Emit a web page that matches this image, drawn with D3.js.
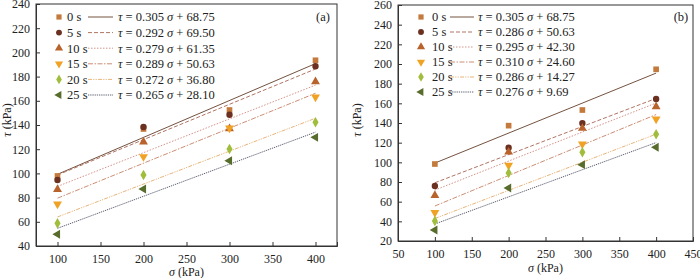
<!DOCTYPE html>
<html><head><meta charset="utf-8">
<script src="https://cdn.jsdelivr.net/npm/d3@7"></script>
<style>
body{margin:0;background:#fff;}
svg{display:block;}
svg text{font-family:"Liberation Serif","Times New Roman",serif !important;}
</style></head>
<body>
<svg id="c" width="700" height="278"></svg>
<script>
// ---- data ----
const sigma = [100, 200, 300, 400];
const seriesLabels = ["0 s", "5 s", "10 s", "15 s", "20 s", "25 s"];
const xTicksA = [100, 150, 200, 250, 300, 350, 400];
const yTicksA = [40, 60, 80, 100, 120, 140, 160, 180, 200, 220, 240];
const xTicksB = [50, 100, 150, 200, 250, 300, 350, 400, 450];
const yTicksB = [20, 40, 60, 80, 100, 120, 140, 160, 180, 200, 220, 240, 260];

const tauA0 = [97.9, 136.7, 152.4, 193.5];
const tauA5 = [94.5, 138.3, 148.5, 188.5];
const tauA10 = [86.8, 126.0, 137.0, 175.8];
const tauA15 = [74.7, 113.8, 137.5, 163.1];
const tauA20 = [58.7, 98.7, 120.2, 142.2];
const tauA25 = [49.7, 87.1, 110.5, 129.8];
const slopeA = [0.305, 0.292, 0.279, 0.289, 0.272, 0.265];
const interceptA = [68.75, 69.50, 61.35, 50.63, 36.80, 28.10];
const eqA = ["0.305", "0.292", "0.279", "0.289", "0.272", "0.265"];
const eqIntA = ["68.75", "69.50", "61.35", "50.63", "36.80", "28.10"];

const tauB0 = [98.3, 137.3, 153.2, 194.6];
const tauB5 = [76.0, 114.9, 139.7, 164.4];
const tauB10 = [66.4, 110.5, 134.6, 156.6];
const tauB15 = [48.8, 97.0, 118.6, 144.0];
const tauB20 = [40.3, 89.1, 110.2, 128.5];
const tauB25 = [31.2, 73.9, 97.6, 115.3];
const slopeB = [0.305, 0.286, 0.295, 0.310, 0.286, 0.276];
const interceptB = [68.75, 50.63, 42.30, 24.60, 14.27, 9.69];
const eqB = ["0.305", "0.286", "0.295", "0.310", "0.286", "0.276"];
const eqIntB = ["68.75", "50.63", "42.30", "24.60", "14.27", "9.69"];

// ---- styles ----
const markerColors = ["#c47a3c", "#6b3020", "#b8622c", "#f0a224", "#a0bd3c", "#586c2c"];
const lineColors = ["#74523f", "#b07464", "#d4948a", "#cc8e74", "#e8b47a", "#5e6272"];
const dashes = [null, "4,2", "1.5,1.5", "5,1.5,1.5,1.5", "4,1.2,1.2,1.2,1.2,1.2", "1.3,0.9"];
const shapes = [d3.symbolSquare, d3.symbolCircle, d3.symbolTriangle, d3.symbolTriangle, d3.symbolDiamond, d3.symbolTriangle];
const rotations = [0, 0, 0, 180, 0, -90];
const sizes = [32, 32, 34, 34, 32, 34];

const svg = d3.select("#c");

function panel(cfg) {
  const g = svg.append("g");
  const x = d3.scaleLinear().domain(cfg.xDomain).range([cfg.left, cfg.right]);
  const y = d3.scaleLinear().domain(cfg.yDomain).range([cfg.bottom, cfg.top]);

  g.append("rect").attr("x", cfg.left).attr("y", cfg.top)
    .attr("width", cfg.right - cfg.left).attr("height", cfg.bottom - cfg.top)
    .attr("fill", "none").attr("stroke", "#333").attr("stroke-width", 1);

  const xa = g.append("g").attr("transform", `translate(0,${cfg.bottom})`)
    .call(d3.axisBottom(x).tickValues(cfg.xTicks).tickSize(-4).tickPadding(8).tickFormat(d3.format("d")));
  const ya = g.append("g").attr("transform", `translate(${cfg.left},0)`)
    .call(d3.axisLeft(y).tickValues(cfg.yTicks).tickSize(-4).tickPadding(6).tickFormat(d3.format("d")));
  [xa, ya].forEach(a => {
    a.select(".domain").attr("stroke", "#333");
    a.selectAll(".tick line").attr("stroke", "#333");
    a.selectAll("text").attr("font-size", 12).attr("fill", "#222");
  });

  cfg.slopes.forEach((s, i) => {
    const xs = [sigma[0], sigma[sigma.length - 1]];
    g.append("line")
      .attr("x1", x(xs[0])).attr("y1", y(s * xs[0] + cfg.intercepts[i]))
      .attr("x2", x(xs[1])).attr("y2", y(s * xs[1] + cfg.intercepts[i]))
      .attr("stroke", lineColors[i]).attr("stroke-width", 1)
      .attr("stroke-dasharray", dashes[i]);
  });

  cfg.series.forEach((vals, i) => {
    g.selectAll(null).data(vals).enter().append("path")
      .attr("d", d3.symbol().type(shapes[i]).size(sizes[i]))
      .attr("transform", (d, j) => `translate(${x(sigma[j])},${y(d)}) rotate(${rotations[i]})`)
      .attr("fill", markerColors[i]);
  });

  seriesLabels.forEach((lab, i) => {
    const yy = cfg.legY + i * cfg.legStep;
    g.append("path")
      .attr("d", d3.symbol().type(shapes[i]).size(sizes[i] * 0.85))
      .attr("transform", `translate(${cfg.legMarker},${yy}) rotate(${rotations[i]})`)
      .attr("fill", markerColors[i]);
    g.append("text").attr("x", cfg.legLabel).attr("y", yy).attr("dy", "0.35em")
      .attr("font-size", 12.5).attr("fill", "#222").text(lab);
    g.append("line").attr("x1", cfg.legLine[0]).attr("x2", cfg.legLine[1])
      .attr("y1", yy).attr("y2", yy)
      .attr("stroke", lineColors[i]).attr("stroke-width", 1)
      .attr("stroke-dasharray", dashes[i]);
    const t = g.append("text").attr("x", cfg.legEq).attr("y", yy).attr("dy", "0.35em")
      .attr("font-size", 12.5).attr("fill", "#222");
    t.append("tspan").attr("font-style", "italic").text("τ");
    t.append("tspan").text(" = " + cfg.eq[i] + " ");
    t.append("tspan").attr("font-style", "italic").text("σ");
    t.append("tspan").text(" + " + cfg.eqInt[i]);
  });

  g.append("text").attr("x", cfg.tagX).attr("y", cfg.legY).attr("dy", "0.35em")
    .attr("text-anchor", "middle").attr("font-size", 12.5).attr("fill", "#222").text(cfg.tag);

  const xt = g.append("text").attr("x", (cfg.left + cfg.right) / 2).attr("y", cfg.xTitleY)
    .attr("text-anchor", "middle").attr("font-size", 12).attr("fill", "#222");
  xt.append("tspan").attr("font-style", "italic").text("σ");
  xt.append("tspan").text(" (kPa)");
  const yt = g.append("text").attr("transform", `translate(${cfg.yTitleX},${cfg.yTitleY}) rotate(-90)`)
    .attr("text-anchor", "middle").attr("font-size", 12).attr("fill", "#222");
  yt.append("tspan").attr("font-style", "italic").text("τ");
  yt.append("tspan").text(" (kPa)");
}

panel({
  xDomain: [75, 425], yDomain: [40, 240], left: 36, right: 337, top: 4, bottom: 246,
  xTicks: xTicksA, yTicks: yTicksA,
  series: [tauA0, tauA5, tauA10, tauA15, tauA20, tauA25],
  slopes: slopeA, intercepts: interceptA, eq: eqA, eqInt: eqIntA,
  legY: 17, legStep: 15.6, legMarker: 59, legLabel: 67, legLine: [88, 113], legEq: 118,
  tag: "(a)", tagX: 323, xTitleY: 276, yTitleX: 11, yTitleY: 120
});

panel({
  xDomain: [50, 450], yDomain: [20, 260], left: 398, right: 693, top: 5, bottom: 241,
  xTicks: xTicksB, yTicks: yTicksB,
  series: [tauB0, tauB5, tauB10, tauB15, tauB20, tauB25],
  slopes: slopeB, intercepts: interceptB, eq: eqB, eqInt: eqIntB,
  legY: 17, legStep: 15, legMarker: 421, legLabel: 432, legLine: [450, 474], legEq: 478,
  tag: "(b)", tagX: 681, xTitleY: 272, yTitleX: 361, yTitleY: 120
});
</script>
</body></html>
